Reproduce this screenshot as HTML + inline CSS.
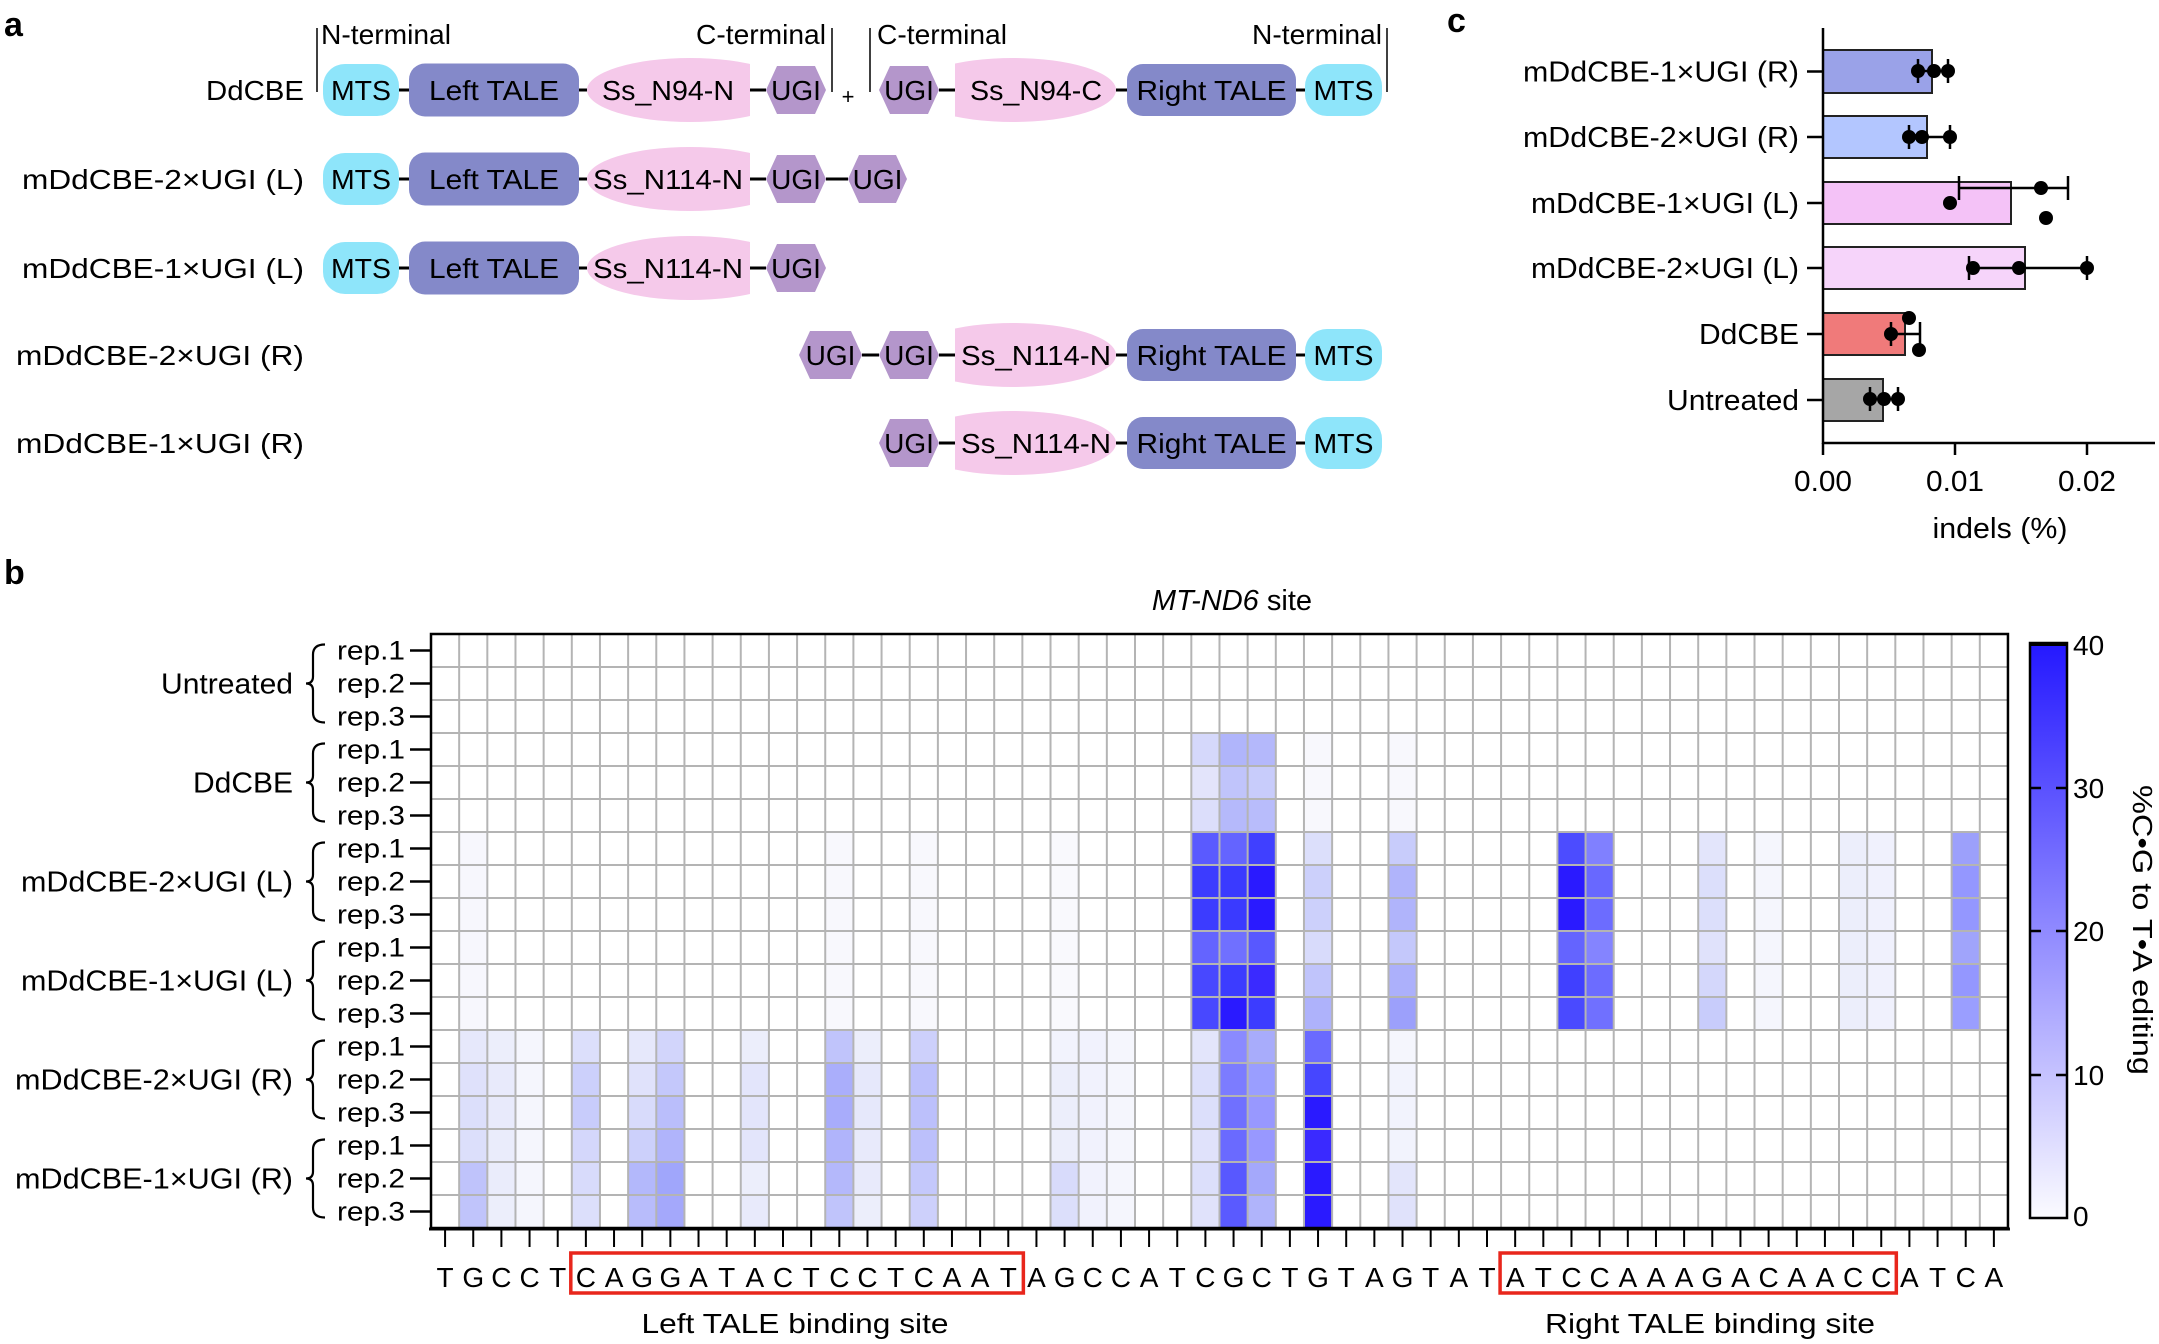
<!DOCTYPE html>
<html><head><meta charset="utf-8"><style>
html,body{margin:0;padding:0;background:#fff;}
svg{display:block;font-family:"Liberation Sans",Arial,sans-serif;}
</style></head><body>
<svg id="s" xmlns="http://www.w3.org/2000/svg" width="2159" height="1344" viewBox="0 0 2159 1344">
<defs>
<linearGradient id="cb" x1="0" y1="1" x2="0" y2="0">
<stop offset="0" stop-color="#fbfbff"/><stop offset="1" stop-color="#2418ff"/>
</linearGradient>
<clipPath id="cN"><rect x="0" y="0" width="750" height="1344"/></clipPath>
<clipPath id="cC"><rect x="955" y="0" width="1200" height="1344"/></clipPath>
</defs>
<g font-weight="bold" font-size="34" fill="#000">
<text x="4" y="36">a</text><text x="4" y="584">b</text><text x="1447" y="32">c</text>
</g>
<g id="pa" font-size="28"></g>
<g id="pc"></g>
<g id="hm"></g>
</svg>
<script>
const NS="http://www.w3.org/2000/svg";
function el(p,t,a,txt){const e=document.createElementNS(NS,t);for(const k in a)e.setAttribute(k,a[k]);if(txt!==undefined)e.textContent=txt;p.appendChild(e);return e;}
const pa=document.getElementById('pa');
const MTS="#8ee5fa",TALE="#8489c9",PINK="#f5c9ea",UGI="#b496cb";
function rr(x1,x2,cy,h,c,r,label,tl){el(pa,'rect',{x:x1,y:cy-h/2,width:x2-x1,height:h,rx:r,fill:c});el(pa,'text',{x:(x1+x2)/2,y:cy+10,'text-anchor':'middle',textLength:tl,lengthAdjust:'spacingAndGlyphs'},label);}
function hex(x1,x2,cy){const h=24;el(pa,'polygon',{points:`${x1},${cy} ${x1+11},${cy-h} ${x2-11},${cy-h} ${x2},${cy} ${x2-11},${cy+h} ${x1+11},${cy+h}`,fill:UGI});el(pa,'text',{x:(x1+x2)/2,y:cy+10,'text-anchor':'middle'},'UGI');}
function pinkN(cy,label,tl){el(pa,'ellipse',{cx:690,cy:cy,rx:103,ry:32,fill:PINK,'clip-path':'url(#cN)'});el(pa,'text',{x:668,y:cy+10,'text-anchor':'middle',textLength:tl,lengthAdjust:'spacingAndGlyphs'},label);}
function pinkC(cy,label,tl){el(pa,'ellipse',{cx:1013,cy:cy,rx:103,ry:32,fill:PINK,'clip-path':'url(#cC)'});el(pa,'text',{x:1036,y:cy+10,'text-anchor':'middle',textLength:tl,lengthAdjust:'spacingAndGlyphs'},label);}
function dash(x1,x2,cy){el(pa,'line',{x1:x1,x2:x2,y1:cy,y2:cy,stroke:'#000','stroke-width':3});}
function lbl(t,cy,tl){el(pa,'text',{x:304,y:cy+10,'text-anchor':'end',textLength:tl,lengthAdjust:'spacingAndGlyphs'},t);}
function left(cy,n114){rr(323,399,cy,52,MTS,22,'MTS',60);dash(399,409,cy);rr(409,579,cy,53,TALE,16,'Left TALE',130);dash(579,587,cy);pinkN(cy,n114?'Ss_N114-N':'Ss_N94-N',n114?150:132);dash(750,766,cy);hex(766,826,cy);}
function right(cy,n114){dash(939,955,cy);pinkC(cy,n114?'Ss_N114-N':'Ss_N94-C',n114?150:132);dash(1116,1127,cy);rr(1127,1296,cy,52,TALE,16,'Right TALE',150);dash(1296,1305,cy);rr(1305,1382,cy,52,MTS,22,'MTS',60);}
// row 1
left(90,false);hex(879,939,90);right(90,false);
lbl('DdCBE',90,98);
[[317,'start',321],[832,'end',826],[870,'start',877],[1387,'end',1382]].forEach(([x,a,tx])=>{el(pa,'line',{x1:x,x2:x,y1:28,y2:92,stroke:'#000','stroke-width':1.5});el(pa,'text',{x:tx,y:44,'text-anchor':a,textLength:130,lengthAdjust:'spacingAndGlyphs'},a==='start'&&x===317?'N-terminal':(x===832||x===870?'C-terminal':'N-terminal'));});
el(pa,'text',{x:848,y:104,'text-anchor':'middle','font-size':22},'+');
// row 2
left(179,true);dash(826,848,179);hex(848,907,179);lbl('mDdCBE-2×UGI (L)',179,282);
left(268,true);lbl('mDdCBE-1×UGI (L)',268,282);
hex(799,862,355);dash(862,879,355);hex(879,939,355);right(355,true);lbl('mDdCBE-2×UGI (R)',355,288);
hex(879,939,443);right(443,true);lbl('mDdCBE-1×UGI (R)',443,288);

// panel c
const pc=document.getElementById('pc');
const X0=1823,U=13200;
const bars=[
 ['mDdCBE-1×UGI (R)',50,93,1932,'#9aa2e8',[[1918,71],[1934,71],[1948,71]],[1918,1948]],
 ['mDdCBE-2×UGI (R)',116,158,1927,'#b3c6ff',[[1909,137],[1922,137],[1950,137]],[1909,1950]],
 ['mDdCBE-1×UGI (L)',182,224,2011,'#f4c2f7',[[1950,203],[2041,188],[2046,218]],[1959,2068]],
 ['mDdCBE-2×UGI (L)',247,289,2025,'#f6d4fa',[[1973,268],[2019,268],[2087,268]],[1969,2087]],
 ['DdCBE',313,355,1905,'#f07a7a',[[1909,318],[1891,334],[1919,350]],[1891,1920]],
 ['Untreated',379,421,1883,'#a6a6a6',[[1870,399],[1884,399],[1898,399]],[1870,1898]]];
const tl={'mDdCBE-1×UGI (R)':276,'mDdCBE-2×UGI (R)':276,'mDdCBE-1×UGI (L)':268,'mDdCBE-2×UGI (L)':268,'DdCBE':100,'Untreated':132};
bars.forEach(([n,y1,y2,xr,c,dots,eb])=>{
 const cy=(y1+y2)/2;
 el(pc,'rect',{x:X0,y:y1,width:xr-X0,height:y2-y1,fill:c,stroke:'#222','stroke-width':2});
 el(pc,'line',{x1:1807,x2:X0,y1:cy,y2:cy,stroke:'#000','stroke-width':2.5});
 el(pc,'text',{x:1799,y:cy+10,'text-anchor':'end','font-size':29,textLength:tl[n],lengthAdjust:'spacingAndGlyphs'},n);
 const ey=dots[1][1];
 el(pc,'line',{x1:eb[0],x2:eb[1],y1:ey,y2:ey,stroke:'#000','stroke-width':2.5});
 el(pc,'line',{x1:eb[0],x2:eb[0],y1:ey-12,y2:ey+12,stroke:'#000','stroke-width':2.5});
 el(pc,'line',{x1:eb[1],x2:eb[1],y1:ey-12,y2:ey+12,stroke:'#000','stroke-width':2.5});
 dots.forEach(([x,y])=>el(pc,'circle',{cx:x,cy:y,r:7,fill:'#000'}));
});
el(pc,'line',{x1:X0,x2:X0,y1:28,y2:444,stroke:'#000','stroke-width':2.5});
el(pc,'line',{x1:X0-1,x2:2155,y1:443,y2:443,stroke:'#000','stroke-width':2.5});
[[X0,'0.00'],[1955,'0.01'],[2087,'0.02']].forEach(([x,t])=>{el(pc,'line',{x1:x,x2:x,y1:443,y2:455,stroke:'#000','stroke-width':2.5});el(pc,'text',{x:x,y:491,'text-anchor':'middle','font-size':29,textLength:58,lengthAdjust:'spacingAndGlyphs'},t);});
el(pc,'text',{x:2000,y:538,'text-anchor':'middle','font-size':29,textLength:135,lengthAdjust:'spacingAndGlyphs'},'indels (%)');

// heatmap
const hm=document.getElementById('hm');
const x0=431,cw=28.16,y0=634,rh=33,NC=56,NR=18;
const C={};
function setc(col,start,arr){if(!C[col])C[col]=Array(18).fill('#ffffff');arr.forEach((v,i)=>C[col][start+i]=v);}
setc(1,6,Array(6).fill('#f7f7fd'));setc(14,6,Array(6).fill('#f8f8fd'));setc(17,6,Array(6).fill('#f8f8fd'));setc(22,6,Array(6).fill('#f9f9fd'));
setc(1,12,['#e6e8fb','#dfe1fb','#dcdffb','#dcdffb','#bfc3fb','#c0c4fb']);
setc(2,12,['#eceefb','#e8eafb','#e8eafb','#eaecfb','#eaecfb','#eceefb']);
setc(3,12,Array(6).fill('#f5f6fd'));
setc(5,12,['#dcdffb','#ccd0fb','#c8ccfb','#d4d7fb','#d8dbfb','#dcdffb']);
setc(7,12,['#e6e8fb','#e0e2fb','#d8dbfb','#ccd0fb','#b3b8fb','#b8bcfb']);
setc(8,12,['#d2d5fb','#c4c8fb','#babefb','#b0b4fb','#a0a6fb','#a4a8fb']);
setc(11,12,['#eceefb','#e3e5fb','#e3e5fb','#e3e5fb','#eceefb','#e8eafb']);
setc(14,12,['#c0c4fb','#aaaefb','#a8acfb','#b0b4fb','#b4b8fb','#c0c4fb']);
setc(15,12,['#eceefb','#e6e8fb','#e6e8fb','#e8eafb','#e8eafb','#eceefb']);
setc(17,12,['#cdd0fb','#bcc0fb','#bcc0fb','#bcc0fb','#c4c8fb','#cdd0fb']);
setc(22,12,['#f2f3fd','#eceefb','#eceefb','#eceefb','#d8dbfb','#dcdffb']);
setc(23,12,Array(6).fill('#f1f2fd'));setc(24,12,Array(6).fill('#f5f6fd'));
setc(27,3,['#d5d8fb','#e3e4fb','#dcdefb','#5a5aff','#3c3cff','#3c3cff','#6464ff','#4848ff','#4848ff','#e3e5fb','#dcdffb','#dcdffb','#e0e2fb','#dcdffb','#e0e2fb']);
setc(28,3,['#b0b5fb','#c0c4fb','#b5b9fb','#6464ff','#3a3aff','#3a3aff','#7070ff','#3c3cff','#2a1aff','#8a8aff','#7c7cff','#7070ff','#6a6aff','#5858ff','#5a5aff']);
setc(29,3,['#b4b8fb','#c8ccfb','#b8bcfb','#4040ff','#2a1aff','#2a1aff','#5858ff','#3a2aff','#3c3cff','#a8acfb','#9a9eff','#9898ff','#9898ff','#a4a8fb','#b0b4fb']);
setc(31,3,['#f8f8fd','#f8f8fd','#f8f8fd','#dcdffb','#ccd0fb','#ccd0fb','#d8dbfb','#c0c4fb','#aeb2fb','#6a6aff','#4646ff','#2a1aff','#3a2aff','#2a1aff','#2a1aff']);
setc(34,3,['#f8f8fd','#f8f8fd','#f8f8fd','#c8ccfb','#b0b4fb','#b0b4fb','#c4c8fb','#acb0fb','#9ca0fb','#f5f6fd','#f2f3fd','#f2f3fd','#f2f3fd','#e3e5fb','#e0e2fb']);
setc(40,6,['#4c4cff','#2a1aff','#2a1aff','#6464ff','#4040ff','#4a4aff']);
setc(41,6,['#8080ff','#6868ff','#6c6cff','#8484ff','#6c6cff','#7070ff']);
setc(45,6,['#e3e5fb','#dcdffb','#dcdffb','#e0e2fb','#d4d7fb','#c8ccfb']);
setc(47,6,Array(6).fill('#f5f6fd'));
setc(50,6,Array(6).fill('#eceefb'));setc(51,6,Array(6).fill('#f0f1fd'));
setc(54,6,['#9ca0fb','#9497ff','#9497ff','#a0a4fb','#9497ff','#9a9eff']);
for(const c in C)for(let r=0;r<NR;r++){if(C[c][r]!=='#ffffff')el(hm,'rect',{x:x0+c*cw,y:y0+r*rh,width:cw+0.3,height:rh+0.3,fill:C[c][r]});}
for(let c=1;c<NC;c++)el(hm,'line',{x1:x0+c*cw,x2:x0+c*cw,y1:y0,y2:y0+NR*rh,stroke:'#b4b4b4','stroke-width':2});
for(let r=1;r<NR;r++)el(hm,'line',{x1:x0,x2:x0+NC*cw,y1:y0+r*rh,y2:y0+r*rh,stroke:'#b4b4b4','stroke-width':2});
el(hm,'rect',{x:x0,y:y0,width:NC*cw,height:NR*rh,fill:'none',stroke:'#000','stroke-width':2.5});
el(hm,'line',{x1:x0-2,x2:x0+NC*cw+2,y1:y0+NR*rh+1,y2:y0+NR*rh+1,stroke:'#000','stroke-width':3});
const seq="TGCCTCAGGATACTCCTCAATAGCCATCGCTGTAGTATATCCAAAGACAACCATCA";
for(let c=0;c<NC;c++){const x=x0+(c+0.5)*cw;el(hm,'line',{x1:x,x2:x,y1:y0+NR*rh,y2:1247,stroke:'#000','stroke-width':2});el(hm,'text',{x:x,y:1287,'text-anchor':'middle','font-size':28},seq[c]);}
el(hm,'rect',{x:x0+5*cw-1,y:1253,width:16*cw+2,height:40,fill:'none',stroke:'#e8261c','stroke-width':3.5});
el(hm,'rect',{x:x0+38*cw-1,y:1253,width:14*cw+2,height:40,fill:'none',stroke:'#e8261c','stroke-width':3.5});
el(hm,'text',{x:795,y:1333,'text-anchor':'middle','font-size':28,textLength:307,lengthAdjust:'spacingAndGlyphs'},'Left TALE binding site');
el(hm,'text',{x:1710,y:1333,'text-anchor':'middle','font-size':28,textLength:330,lengthAdjust:'spacingAndGlyphs'},'Right TALE binding site');
const groups=['Untreated','DdCBE','mDdCBE-2×UGI (L)','mDdCBE-1×UGI (L)','mDdCBE-2×UGI (R)','mDdCBE-1×UGI (R)'];
const gtl=[132,100,272,272,278,278];
for(let r=0;r<NR;r++){const cy=y0+(r+0.5)*rh;el(hm,'line',{x1:410,x2:x0,y1:cy,y2:cy,stroke:'#000','stroke-width':2.5});el(hm,'text',{x:405,y:cy+9,'text-anchor':'end','font-size':27,textLength:68,lengthAdjust:'spacingAndGlyphs'},'rep.'+(r%3+1));}
groups.forEach((g,i)=>{const cy=y0+(3*i+1.5)*rh;el(hm,'text',{x:293,y:cy+10,'text-anchor':'end','font-size':29,textLength:gtl[i],lengthAdjust:'spacingAndGlyphs'},g);
 const a=y0+(3*i+0.5)*rh-6,b=y0+(3*i+2.5)*rh+6,m=cy;
 el(hm,'path',{d:`M325,${a} Q313,${a} 313,${a+10} L313,${m-7} Q313,${m} 306,${m} Q313,${m} 313,${m+7} L313,${b-10} Q313,${b} 325,${b}`,fill:'none',stroke:'#000','stroke-width':2.2});});
const t=el(hm,'text',{x:1312,y:610,'text-anchor':'end','font-size':29});
el(t,'tspan',{'font-style':'italic'},'MT-ND6');el(t,'tspan',{},' site');
// colorbar
el(hm,'rect',{x:2030,y:643,width:37,height:575,fill:'url(#cb)',stroke:'#000','stroke-width':2.5});
el(hm,'rect',{x:2030,y:643,width:37,height:3,fill:'#000'});
[[40,645],[30,788],[20,931],[10,1075],[0,1216]].forEach(([v,y])=>{if(v>0&&v<40){el(hm,'line',{x1:2030,x2:2041,y1:y,y2:y,stroke:'#000','stroke-width':2.5});el(hm,'line',{x1:2056,x2:2067,y1:y,y2:y,stroke:'#000','stroke-width':2.5});}
 el(hm,'text',{x:2073,y:y+10,'font-size':28},String(v));});
el(hm,'text',{x:2133,y:930,'text-anchor':'middle','font-size':28,transform:'rotate(90 2133 930)',textLength:290,lengthAdjust:'spacingAndGlyphs'},'%C•G to T•A editing');
</script>
</body></html>
